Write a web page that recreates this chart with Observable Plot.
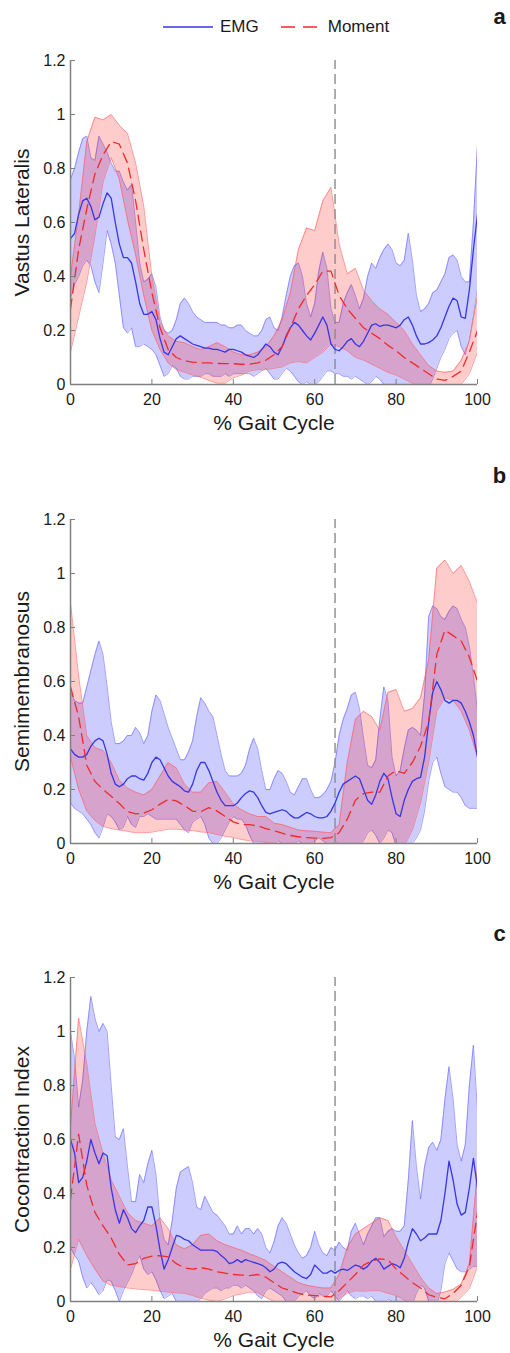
<!DOCTYPE html>
<html><head><meta charset="utf-8">
<script src="https://cdn.jsdelivr.net/npm/d3@7"></script>
<script src="https://cdn.jsdelivr.net/npm/@observablehq/plot@0.6"></script>
<style>
html,body{margin:0;padding:0;background:#fff;}
#fig{position:relative;width:510px;height:1353px;font-family:"Liberation Sans",Arial,sans-serif;color:#1a1a1a;}
.panel{position:absolute;left:0;}
#legend{position:absolute;top:17px;left:163px;display:flex;align-items:center;font-size:17px;line-height:20px;z-index:5;}
</style></head><body>
<div id="fig"></div>
<script>
// ---- tick labels / categories ----
const xTicks = [0, 20, 40, 60, 80, 100];
const yTicks = [0, 0.2, 0.4, 0.6, 0.8, 1, 1.2];
const yTickLabels = ["0", "0.2", "0.4", "0.6", "0.8", "1", "1.2"];
const xLabel = "% Gait Cycle";
const seriesNames = ["EMG", "Moment"];
const toeOff = 65;
const emgX = d3.range(0, 101, 1);   // % gait cycle grid of the EMG curves
const momX = d3.range(0, 101, 2);   // % gait cycle grid of the moment curves

// ---- (a) Vastus Lateralis ----
const vlEmgMean = [0.54,0.56,0.63,0.68,0.69,0.66,0.61,0.62,0.67,0.71,
 0.69,0.60,0.52,0.47,0.47,0.45,0.38,0.30,0.26,0.26,
 0.27,0.24,0.17,0.12,0.11,0.14,0.17,0.18,0.17,0.16,
 0.15,0.145,0.14,0.135,0.135,0.13,0.13,0.125,0.12,0.13,
 0.13,0.125,0.12,0.11,0.105,0.10,0.11,0.13,0.15,0.14,
 0.12,0.11,0.14,0.18,0.21,0.23,0.22,0.20,0.18,0.165,
 0.19,0.22,0.25,0.22,0.15,0.13,0.125,0.14,0.16,0.17,
 0.15,0.14,0.16,0.19,0.22,0.225,0.215,0.22,0.22,0.215,
 0.21,0.22,0.24,0.25,0.22,0.18,0.15,0.15,0.155,0.165,
 0.18,0.21,0.25,0.29,0.32,0.31,0.25,0.245,0.35,0.50,
 0.63];
const vlEmgHi = [0.76,0.80,0.86,0.91,0.92,0.84,0.83,0.92,0.89,0.86,
 0.82,0.79,0.79,0.75,0.72,0.74,0.60,0.45,0.38,0.39,
 0.41,0.36,0.25,0.20,0.19,0.20,0.24,0.30,0.32,0.30,
 0.27,0.25,0.24,0.23,0.23,0.23,0.23,0.22,0.22,0.21,
 0.21,0.22,0.22,0.20,0.19,0.18,0.18,0.20,0.24,0.25,
 0.21,0.20,0.25,0.33,0.40,0.44,0.45,0.40,0.30,0.25,
 0.30,0.42,0.49,0.43,0.28,0.23,0.23,0.30,0.34,0.37,
 0.33,0.28,0.32,0.40,0.45,0.43,0.47,0.50,0.52,0.50,
 0.45,0.44,0.46,0.56,0.46,0.33,0.27,0.28,0.30,0.34,
 0.35,0.38,0.41,0.47,0.48,0.46,0.40,0.38,0.38,0.60,
 0.89];
const vlEmgLo = [0.32,0.37,0.40,0.44,0.46,0.44,0.38,0.34,0.45,0.57,
 0.52,0.45,0.33,0.21,0.19,0.21,0.14,0.14,0.15,0.14,
 0.13,0.11,0.07,0.03,0.04,0.07,0.06,0.03,0.02,0.02,
 0.03,0.03,0.03,0.04,0.04,0.03,0.03,0.03,0.04,0.03,
 0.04,0.04,0.04,0.04,0.04,0.03,0.04,0.05,0.06,0.04,
 0.02,0.02,0.04,0.06,0.05,0.03,0.01,0.0,0.01,0.0,
 0.0,0.01,0.03,0.05,0.05,0.04,0.04,0.03,0.03,0.02,
 0.03,0.02,0.01,0.0,0.01,0.03,0.02,0.0,-0.01,-0.02,
 -0.02,-0.02,-0.02,-0.02,-0.02,-0.02,-0.02,-0.02,-0.01,0.02,
 0.06,0.10,0.13,0.17,0.19,0.20,0.14,0.11,0.17,0.26,
 0.36];
const vlMomMean = [0.28,0.50,0.65,0.78,0.85,0.90,0.89,0.82,0.68,0.50,
 0.34,0.21,0.13,0.10,0.088,0.083,0.08,0.08,0.078,0.077,
 0.077,0.075,0.075,0.08,0.09,0.11,0.14,0.21,0.28,0.33,
 0.37,0.42,0.42,0.33,0.28,0.245,0.21,0.19,0.17,0.145,
 0.125,0.10,0.08,0.06,0.04,0.02,0.015,0.03,0.05,0.12,
 0.20];
const vlMomHi = [0.40,0.63,0.90,0.99,0.98,1.0,0.96,0.93,0.82,0.66,
 0.40,0.23,0.18,0.16,0.155,0.14,0.13,0.14,0.155,0.14,
 0.12,0.11,0.11,0.12,0.14,0.18,0.24,0.34,0.50,0.58,
 0.57,0.68,0.73,0.52,0.41,0.43,0.35,0.31,0.28,0.26,
 0.23,0.20,0.15,0.11,0.07,0.05,0.045,0.05,0.09,0.16,
 0.33];
const vlMomLo = [0.12,0.25,0.38,0.55,0.75,0.84,0.76,0.61,0.48,0.33,
 0.20,0.13,0.08,0.055,0.045,0.035,0.027,0.015,0.005,0.005,
 0.025,0.035,0.05,0.055,0.055,0.06,0.065,0.08,0.085,0.08,
 0.10,0.12,0.15,0.14,0.125,0.10,0.09,0.075,0.06,0.045,
 0.035,0.02,0.005,-0.01,-0.02,-0.02,-0.01,-0.01,0.0,0.04,
 0.12];

// ---- (b) Semimembranosus ----
const smEmgMean = [0.35,0.33,0.32,0.32,0.33,0.36,0.38,0.39,0.38,0.33,
 0.26,0.22,0.21,0.22,0.24,0.25,0.25,0.24,0.235,0.26,
 0.30,0.32,0.31,0.28,0.25,0.23,0.22,0.21,0.195,0.19,
 0.22,0.27,0.30,0.30,0.27,0.23,0.19,0.16,0.14,0.14,
 0.14,0.15,0.17,0.185,0.195,0.19,0.17,0.14,0.115,0.11,
 0.115,0.12,0.125,0.12,0.105,0.095,0.095,0.105,0.115,0.11,
 0.10,0.095,0.095,0.10,0.12,0.15,0.19,0.22,0.23,0.24,
 0.25,0.24,0.20,0.16,0.145,0.18,0.23,0.26,0.24,0.17,
 0.11,0.10,0.16,0.20,0.23,0.24,0.245,0.32,0.45,0.56,
 0.60,0.57,0.53,0.52,0.53,0.53,0.52,0.49,0.45,0.40,
 0.32];
const smEmgHi = [0.56,0.53,0.52,0.52,0.58,0.64,0.70,0.75,0.70,0.58,
 0.45,0.37,0.37,0.38,0.40,0.40,0.43,0.41,0.37,0.40,
 0.49,0.55,0.53,0.48,0.43,0.39,0.35,0.31,0.31,0.34,
 0.38,0.47,0.54,0.52,0.49,0.47,0.40,0.33,0.27,0.25,
 0.25,0.25,0.26,0.29,0.35,0.39,0.35,0.27,0.20,0.20,
 0.24,0.27,0.26,0.23,0.19,0.18,0.21,0.24,0.24,0.20,
 0.17,0.17,0.18,0.20,0.23,0.30,0.40,0.46,0.50,0.55,
 0.56,0.50,0.39,0.29,0.28,0.31,0.46,0.58,0.53,0.32,
 0.25,0.27,0.35,0.42,0.43,0.42,0.40,0.55,0.84,0.88,
 0.87,0.84,0.83,0.86,0.88,0.87,0.83,0.80,0.73,0.62,
 0.49];
const smEmgLo = [0.15,0.13,0.12,0.11,0.09,0.07,0.04,0.02,0.06,0.11,
 0.10,0.08,0.05,0.06,0.10,0.07,0.06,0.10,0.10,0.11,
 0.10,0.09,0.09,0.09,0.09,0.09,0.09,0.07,0.05,0.04,
 0.08,0.09,0.10,0.07,0.02,0.0,0.0,0.02,0.05,0.08,
 0.10,0.09,0.09,0.07,0.03,0.0,-0.01,-0.02,-0.02,-0.01,
 0.0,0.01,0.0,-0.01,-0.01,0.0,0.01,0.0,-0.01,0.0,
 0.01,0.02,0.01,0.0,0.0,0.01,0.0,-0.01,-0.01,0.0,
 0.0,-0.01,0.01,0.04,0.05,0.03,0.0,0.02,0.05,0.04,
 -0.01,-0.02,-0.01,0.0,0.0,0.02,0.05,0.12,0.23,0.30,
 0.32,0.26,0.21,0.20,0.19,0.19,0.17,0.14,0.13,0.13,
 0.13];
const smMomMean = [0.58,0.47,0.29,0.23,0.20,0.175,0.148,0.118,0.11,0.112,
 0.125,0.146,0.163,0.158,0.14,0.12,0.118,0.133,0.12,0.10,
 0.08,0.07,0.07,0.065,0.055,0.047,0.038,0.03,0.025,0.022,
 0.02,0.019,0.022,0.04,0.09,0.16,0.185,0.19,0.19,0.25,
 0.27,0.26,0.30,0.36,0.45,0.70,0.79,0.77,0.75,0.69,
 0.60];
const smMomHi = [0.89,0.62,0.40,0.355,0.344,0.30,0.235,0.205,0.19,0.18,
 0.20,0.25,0.30,0.28,0.22,0.19,0.19,0.225,0.23,0.19,
 0.146,0.125,0.11,0.10,0.10,0.075,0.07,0.06,0.05,0.047,
 0.045,0.042,0.04,0.07,0.30,0.46,0.49,0.47,0.42,0.56,
 0.57,0.49,0.50,0.54,0.68,1.02,1.05,1.0,1.03,0.97,
 0.89];
const smMomLo = [0.32,0.20,0.12,0.085,0.063,0.055,0.05,0.045,0.04,0.04,
 0.042,0.048,0.053,0.053,0.05,0.048,0.043,0.04,0.033,0.027,
 0.022,0.015,0.01,0.008,0.004,0.0,-0.005,-0.01,-0.01,-0.01,
 -0.01,-0.01,-0.01,-0.01,-0.01,0.0,0.0,-0.01,-0.01,-0.01,
 -0.01,-0.01,0.05,0.15,0.30,0.49,0.54,0.53,0.49,0.42,
 0.32];

// ---- (c) Cocontraction Index ----
const ciEmgMean = [0.60,0.55,0.44,0.46,0.52,0.60,0.55,0.51,0.55,0.54,
 0.42,0.34,0.29,0.34,0.31,0.27,0.255,0.28,0.30,0.35,
 0.35,0.28,0.19,0.12,0.155,0.20,0.245,0.24,0.23,0.225,
 0.21,0.20,0.19,0.19,0.19,0.19,0.185,0.17,0.158,0.14,
 0.145,0.155,0.145,0.155,0.15,0.145,0.14,0.135,0.125,0.11,
 0.12,0.14,0.146,0.14,0.125,0.11,0.10,0.09,0.085,0.10,
 0.135,0.12,0.105,0.105,0.115,0.105,0.115,0.12,0.115,0.125,
 0.135,0.13,0.12,0.13,0.15,0.16,0.145,0.12,0.13,0.14,
 0.135,0.125,0.16,0.22,0.27,0.25,0.225,0.235,0.25,0.25,
 0.25,0.30,0.40,0.52,0.45,0.36,0.32,0.33,0.42,0.53,
 0.42];
const ciEmgHi = [1.00,0.90,0.72,0.82,1.00,1.13,1.05,1.00,1.03,1.00,
 0.80,0.61,0.60,0.64,0.50,0.37,0.37,0.47,0.44,0.51,
 0.56,0.47,0.30,0.23,0.21,0.30,0.42,0.48,0.49,0.50,
 0.44,0.35,0.34,0.39,0.36,0.33,0.32,0.30,0.28,0.25,
 0.25,0.28,0.25,0.27,0.27,0.25,0.27,0.25,0.20,0.18,
 0.22,0.28,0.31,0.29,0.25,0.21,0.18,0.16,0.17,0.20,
 0.26,0.21,0.18,0.17,0.20,0.19,0.22,0.20,0.19,0.26,
 0.29,0.25,0.21,0.25,0.28,0.31,0.31,0.24,0.26,0.27,
 0.26,0.26,0.28,0.45,0.67,0.50,0.38,0.50,0.57,0.59,
 0.56,0.60,0.75,0.87,0.75,0.58,0.52,0.58,0.80,0.95,
 0.70];
const ciEmgLo = [0.20,0.17,0.15,0.09,0.05,0.07,0.05,0.025,0.04,0.08,
 0.075,0.04,0.0,0.04,0.07,0.10,0.14,0.17,0.12,0.10,
 0.11,0.08,0.04,0.01,0.02,0.03,0.0,-0.02,-0.02,-0.02,
 -0.01,0.0,0.01,0.03,0.04,0.05,0.05,0.04,0.05,0.05,
 0.06,0.06,0.05,0.06,0.05,0.04,0.02,0.01,0.04,0.05,
 0.04,0.03,0.02,0.0,-0.01,0.0,0.02,0.03,0.04,0.02,
 0.01,0.03,0.02,0.02,0.04,0.02,0.0,0.02,0.04,0.02,
 0.01,0.02,0.02,0.01,0.02,0.0,0.0,-0.01,0.01,0.0,
 -0.02,-0.02,-0.02,0.0,-0.01,0.03,0.06,0.05,0.0,-0.03,
 -0.01,0.04,0.14,0.18,0.15,0.12,0.11,0.11,0.12,0.13,
 0.13];
const ciMomMean = [0.38,0.62,0.43,0.33,0.28,0.235,0.175,0.135,0.14,0.16,
 0.168,0.17,0.165,0.14,0.125,0.12,0.125,0.12,0.11,0.105,
 0.10,0.098,0.096,0.10,0.09,0.07,0.05,0.04,0.03,0.024,
 0.022,0.019,0.017,0.04,0.07,0.10,0.135,0.15,0.158,0.155,
 0.12,0.095,0.07,0.05,0.025,0.016,0.01,0.03,0.06,0.13,
 0.33];
const ciMomHi = [0.65,1.05,0.88,0.66,0.55,0.45,0.39,0.33,0.30,0.29,
 0.28,0.31,0.27,0.21,0.195,0.21,0.245,0.25,0.225,0.21,
 0.20,0.19,0.177,0.165,0.152,0.13,0.11,0.09,0.07,0.06,
 0.055,0.05,0.05,0.10,0.20,0.25,0.27,0.29,0.31,0.30,
 0.24,0.19,0.14,0.09,0.05,0.03,0.035,0.045,0.065,0.14,
 0.49];
const ciMomLo = [0.12,0.23,0.17,0.12,0.075,0.06,0.055,0.05,0.047,0.044,
 0.042,0.038,0.035,0.032,0.03,0.022,0.012,0.005,0.0,0.01,
 0.022,0.028,0.035,0.033,0.015,0.0,-0.01,-0.01,-0.01,-0.01,
 -0.01,-0.01,-0.01,0.01,0.03,0.04,0.038,0.04,0.04,0.03,
 0.022,0.005,-0.01,-0.01,-0.01,-0.01,-0.01,-0.01,0.016,0.047,
 0.13];

const panels = [
  {letter: "a", yLabel: "Vastus Lateralis", top: 0, height: 459, marginTop: 60,
   emg: [vlEmgMean, vlEmgLo, vlEmgHi], mom: [vlMomMean, vlMomLo, vlMomHi]},
  {letter: "b", yLabel: "Semimembranosus", top: 459, height: 459, marginTop: 60,
   emg: [smEmgMean, smEmgLo, smEmgHi], mom: [smMomMean, smMomLo, smMomHi]},
  {letter: "c", yLabel: "Cocontraction Index", top: 918, height: 435, marginTop: 59,
   emg: [ciEmgMean, ciEmgLo, ciEmgHi], mom: [ciMomMean, ciMomLo, ciMomHi]}
];

const BLUE = "#3636e6", BLUE_FILL = "#0000ff", BLUE_EDGE = "#5a5aff";
const RED = "#f02a2a", RED_FILL = "#ff0000", RED_EDGE = "#ff5a5a";
const AXIS = "#808080", INK = "#1a1a1a";

function makePanel(p) {
  const emg = emgX.map((x, i) => ({x, m: p.emg[0][i], lo: p.emg[1][i], hi: p.emg[2][i]}));
  const mom = momX.map((x, i) => ({x, m: p.mom[0][i], lo: p.mom[1][i], hi: p.mom[2][i]}));
  const plotH = 324;
  return Plot.plot({
    width: 510, height: p.height,
    marginLeft: 70, marginRight: 33, marginTop: p.marginTop,
    marginBottom: p.height - p.marginTop - plotH,
    x: {domain: [0, 100]},
    y: {domain: [0, 1.2]},
    style: {fontFamily: '"Liberation Sans", Arial, sans-serif', fontSize: "16px", color: INK, background: "transparent", overflow: "visible"},
    marks: [
      Plot.areaY(emg, {x: "x", y1: "lo", y2: "hi", fill: BLUE_FILL, fillOpacity: 0.2, clip: true}),
      Plot.lineY(emg, {x: "x", y: "hi", stroke: BLUE_EDGE, strokeOpacity: 0.55, strokeWidth: 1, clip: true}),
      Plot.lineY(emg, {x: "x", y: "lo", stroke: BLUE_EDGE, strokeOpacity: 0.55, strokeWidth: 1, clip: true}),
      Plot.areaY(mom, {x: "x", y1: "lo", y2: "hi", fill: RED_FILL, fillOpacity: 0.2, clip: true}),
      Plot.lineY(mom, {x: "x", y: "hi", stroke: RED_EDGE, strokeOpacity: 0.6, strokeWidth: 1, clip: true}),
      Plot.lineY(mom, {x: "x", y: "lo", stroke: RED_EDGE, strokeOpacity: 0.6, strokeWidth: 1, clip: true}),
      Plot.ruleX([toeOff], {y1: 0, y2: 1.2, stroke: "#8c8c8c", strokeWidth: 1.4, strokeDasharray: "10,5"}),
      Plot.lineY(emg, {x: "x", y: "m", stroke: BLUE, strokeWidth: 1.3, clip: true}),
      Plot.lineY(mom, {x: "x", y: "m", stroke: RED, strokeWidth: 1.3, strokeDasharray: "10,6", clip: true}),
      Plot.ruleY([0], {stroke: AXIS, strokeWidth: 1.5}),
      Plot.ruleX([0], {stroke: AXIS, strokeWidth: 1.5}),
      Plot.axisX({ticks: xTicks, tickSize: -5, tickPadding: 14, stroke: AXIS, fill: INK, fontSize: 16, label: null, tickFormat: d => String(d)}),
      Plot.axisY({ticks: yTicks, tickSize: -5, tickPadding: 10, stroke: AXIS, fill: INK, fontSize: 16, label: null,
                  tickFormat: d => yTickLabels[yTicks.indexOf(d)]}),
      Plot.text([xLabel], {text: d => d, frameAnchor: "bottom", textAnchor: "middle", lineAnchor: "middle", dy: 39, fontSize: 21, fill: INK}),
      Plot.text([p.yLabel], {text: d => d, frameAnchor: "left", textAnchor: "middle", lineAnchor: "middle", dx: -48, rotate: -90, fontSize: 21, fill: INK}),
      Plot.text([p.letter], {text: d => d, frameAnchor: "top-right", textAnchor: "middle", lineAnchor: "middle", dx: 22, dy: -44, fontSize: 22, fontWeight: "bold", fill: INK})
    ]
  });
}

const fig = document.getElementById("fig");
for (const p of panels) {
  const svg = makePanel(p);
  svg.classList.add("panel");
  svg.style.top = p.top + "px";
  fig.appendChild(svg);
}

// legend (HTML, above the first panel)
const legend = document.createElement("div");
legend.id = "legend";
legend.innerHTML =
  `<svg width="50" height="10"><line x1="0" y1="5" x2="50" y2="5" stroke="${BLUE}" stroke-width="1.3"/></svg>` +
  `<span style="margin:0 22px 0 7px">${seriesNames[0]}</span>` +
  `<svg width="40" height="10"><line x1="0" y1="5" x2="40" y2="5" stroke="${RED}" stroke-width="1.3" stroke-dasharray="14,8"/></svg>` +
  `<span style="margin-left:7px">${seriesNames[1]}</span>`;
fig.appendChild(legend);
</script>
</body></html>
